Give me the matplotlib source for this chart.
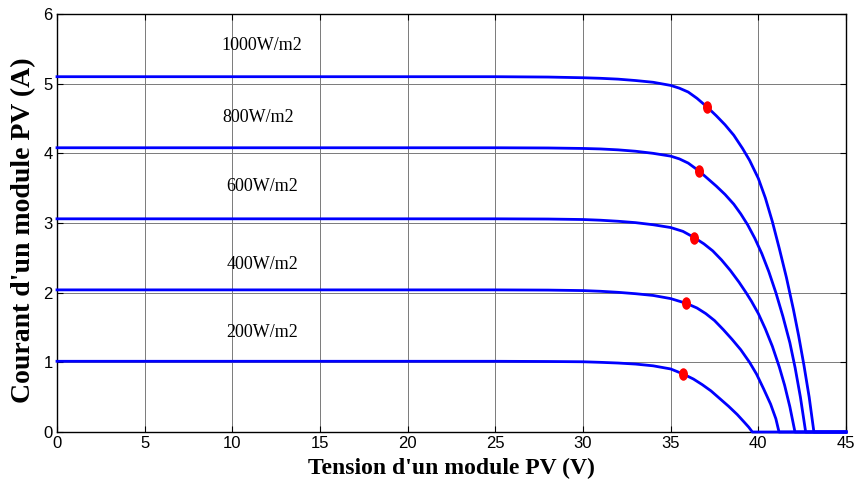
import numpy as np
import matplotlib
matplotlib.use("Agg")
import matplotlib.pyplot as plt
from matplotlib.path import Path

# ---- data ----
V_1000 = [0, 25, 28, 30, 31, 32, 33, 34, 35, 35.5, 36.0, 36.5, 37.1, 37.6, 38.1, 38.6, 39.1, 39.5,
          40.0, 40.4, 40.8, 41.2, 41.6, 42.0, 42.3, 42.6, 42.9, 43.17, 45]
I_1000 = [5.10, 5.10, 5.095, 5.085, 5.077, 5.065, 5.045, 5.02, 4.975, 4.935, 4.88, 4.79, 4.66, 4.54,
          4.41, 4.26, 4.07, 3.90, 3.64, 3.36, 3.02, 2.63, 2.22, 1.76, 1.38, 0.96, 0.50, 0, 0]

V_800 = [0, 25, 28, 30, 31, 32, 33, 34, 35, 35.5, 36.0, 36.6, 37.1, 37.6, 38.1, 38.6, 39.0, 39.4,
         39.8, 40.2, 40.6, 41.0, 41.4, 41.8, 42.1, 42.4, 42.7, 45]
I_800 = [4.08, 4.08, 4.077, 4.07, 4.063, 4.05, 4.03, 4.0, 3.96, 3.92, 3.86, 3.75, 3.64, 3.53, 3.41,
         3.27, 3.13, 2.97, 2.78, 2.56, 2.30, 2.0, 1.66, 1.28, 0.92, 0.50, 0, 0]

V_600 = [0, 25, 28, 30, 31, 32, 33, 34, 35, 35.7, 36.35, 36.9, 37.4, 37.9, 38.4, 38.9, 39.3, 39.6,
         40.0, 40.4, 40.8, 41.2, 41.5, 41.8, 42.09, 45]
I_600 = [3.06, 3.06, 3.057, 3.05, 3.04, 3.025, 3.005, 2.975, 2.935, 2.88, 2.79, 2.70, 2.60, 2.47,
         2.32, 2.15, 2.0, 1.88, 1.70, 1.48, 1.23, 0.93, 0.67, 0.36, 0, 0]

V_400 = [0, 25, 28, 30, 31, 32, 33, 34, 35, 35.9, 36.5, 37.0, 37.5, 38.0, 38.5, 39.0, 39.5, 39.9,
         40.3, 40.7, 41.0, 41.18, 45]
I_400 = [2.04, 2.04, 2.037, 2.03, 2.02, 2.005, 1.985, 1.96, 1.915, 1.846, 1.78, 1.70, 1.60, 1.47,
         1.33, 1.18, 1.0, 0.83, 0.62, 0.40, 0.19, 0, 0]

V_200 = [0, 25, 28, 30, 31, 32, 33, 34, 35, 35.7, 36.3, 36.8, 37.3, 37.8, 38.3, 38.8, 39.2, 39.45,
         39.66, 45]
I_200 = [1.015, 1.015, 1.012, 1.008, 1.0, 0.99, 0.975, 0.95, 0.905, 0.834, 0.76, 0.68, 0.59, 0.48,
         0.37, 0.25, 0.14, 0.07, 0, 0]

mpp_V = [37.1, 36.6, 36.35, 35.9, 35.7]
mpp_I = [4.66, 3.75, 2.79, 1.846, 0.834]

labels = ["1000W/m2", "800W/m2", "600W/m2", "400W/m2", "200W/m2"]
label_V = [11.7, 11.5, 11.7, 11.7, 11.7]
label_I = [5.55, 4.52, 3.52, 2.40, 1.435]

x_ticks = [0, 5, 10, 15, 20, 25, 30, 35, 40, 45]
y_ticks = [0, 1, 2, 3, 4, 5, 6]

xlabel = "Tension d'un module PV (V)"
ylabel = "Courant d'un module PV (A)"

# ---- figure ----
fig = plt.figure(figsize=(8.62, 4.86), dpi=100)
ax = fig.add_axes([57/862, 1-432/486, (846-57)/862, (432-14)/486])

ax.set_xlim(0, 45)
ax.set_ylim(0, 6)
ax.set_xticks(x_ticks)
ax.set_yticks(y_ticks)
ax.grid(True, color="#7a7a7a", linewidth=0.7, linestyle="-")
ax.set_axisbelow(True)

curves = [(V_1000, I_1000), (V_800, I_800), (V_600, I_600), (V_400, I_400), (V_200, I_200)]
for V, I in curves:
    ax.plot(V, I, color="#0000ff", linewidth=2.0, clip_on=False, zorder=3,
            solid_joinstyle="round")

circ = Path.unit_circle()
ell = Path(circ.vertices * np.array([0.72, 1.0]), circ.codes)
ax.plot(mpp_V, mpp_I, linestyle="none", marker=ell, markersize=9,
        color="#ff0000", markeredgewidth=0, zorder=4)

for t, xv, yv in zip(labels, label_V, label_I):
    ax.text(xv, yv, t, ha="center", va="center", fontsize=13,
            family="Liberation Serif", color="black")

ax.tick_params(direction="in", length=4, width=0.8, top=True, right=True,
               labelsize=12, pad=3)
for lab in ax.get_xticklabels() + ax.get_yticklabels():
    lab.set_family("Liberation Sans")
for s in ax.spines.values():
    s.set_linewidth(1.0)
    s.set_color("black")

ax.set_xlabel(xlabel, fontsize=17, fontweight="bold", family="Liberation Serif", labelpad=5)
ax.set_ylabel(ylabel, fontsize=20, fontweight="bold", family="Liberation Serif")
ax.yaxis.set_label_coords(-0.027, 0.483)

fig.savefig("out.png", dpi=100)
